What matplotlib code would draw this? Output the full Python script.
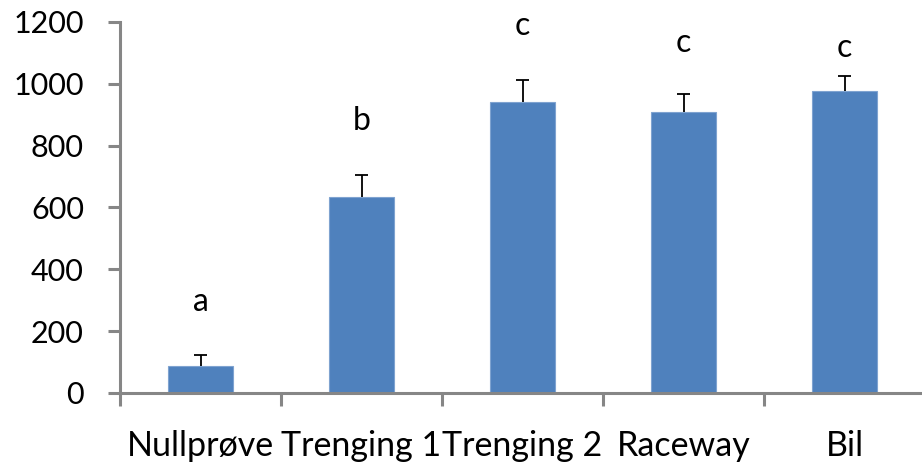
import matplotlib
matplotlib.use("Agg")
import matplotlib.pyplot as plt
import numpy as np

categories = ["Nullprøve", "Trenging 1", "Trenging 2", "Raceway", "Bil"]
values = [87, 634, 942, 910, 977]
errors = [36, 70, 71, 57, 49]
letters = ["a", "b", "c", "c", "c"]
letter_y = [294, 880, 1188, 1133, 1117]
yticks = [0, 200, 400, 600, 800, 1000, 1200]

plt.rcParams['font.family'] = ['Lato', 'DejaVu Sans']

fig = plt.figure(figsize=(9.22, 4.62), dpi=100)
W, H = 922, 462
x0, x1 = 120, 925
y0, y1 = 393, 22
ax = fig.add_axes([x0 / W, 1 - y0 / H, (x1 - x0) / W, (y0 - y1) / H])

x = np.arange(len(categories))
vals = np.array(values)
errs = np.array(errors)
ax.bar(x, vals, width=0.4, color="#4F81BD", edgecolor="#7FA3D0", linewidth=0.8, zorder=2)
ax.vlines(x, vals, vals + errs, color="black", linewidth=1.3, zorder=3)
ax.hlines(vals + errs, x - 0.04, x + 0.04, color="black", linewidth=1.3, zorder=3)

for xi, lt, ly in zip(x, letters, letter_y):
    ax.text(xi, ly, lt, ha="center", va="center", fontsize=23, color="black")

ax.set_xlim(-0.5, len(categories) - 0.5)
ax.set_ylim(0, 1200)
ax.set_yticks(yticks)
ax.set_yticklabels([str(t) for t in yticks], fontsize=22)
ax.tick_params(axis="y", length=9, width=2.2, color="#868686", pad=17, direction="out")

ax.set_xticks(np.arange(len(categories) + 1) - 0.5)
ax.set_xticklabels([])
ax.tick_params(axis="x", which="major", length=9, width=2.2, color="#868686", direction="out")
ax.set_xticks(x, minor=True)
ax.set_xticklabels(categories, minor=True, fontsize=24.5)
ax.tick_params(axis="x", which="minor", length=0, pad=27)

for s in ["top", "right"]:
    ax.spines[s].set_visible(False)
for s in ["left", "bottom"]:
    ax.spines[s].set_color("#868686")
    ax.spines[s].set_linewidth(2.2)

fig.savefig("out.png", dpi=100)
